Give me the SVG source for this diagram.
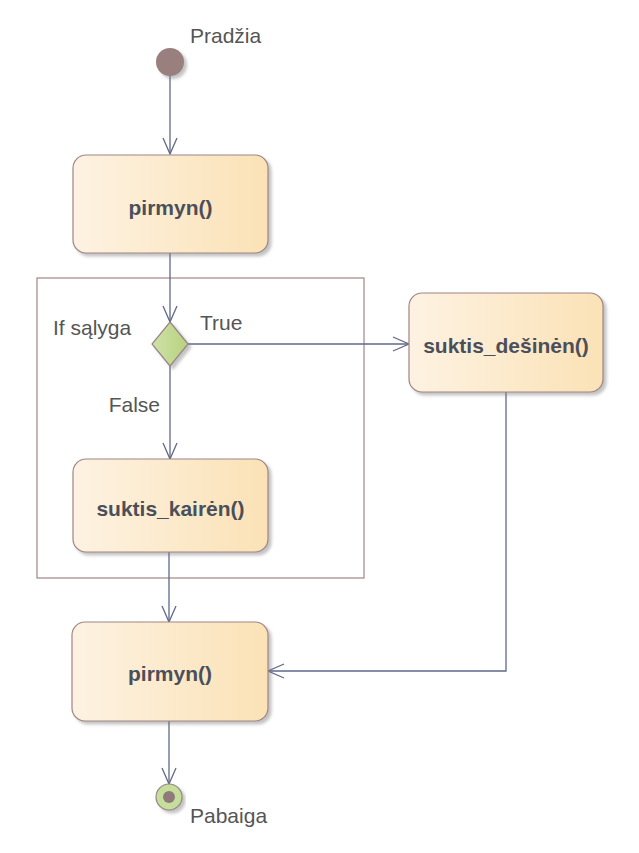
<svg xmlns="http://www.w3.org/2000/svg" width="639" height="853" viewBox="0 0 639 853">
<style>
.node rect.box{fill:url(#boxg);stroke:#a08585;stroke-width:1.2;filter:url(#sh)}
.btxt{font-family:"Liberation Sans",Arial,sans-serif;font-weight:bold;font-size:21px;fill:#4a4f5a;text-anchor:middle}
.lbl{font-family:"Liberation Sans",Arial,sans-serif;font-size:21px;fill:#555}
.conn{fill:none;stroke:#5f6889;stroke-width:1.3}
</style>
<defs>
<linearGradient id="boxg" x1="0" y1="0" x2="1" y2="0">
<stop offset="0" stop-color="#fdf2e2"/>
<stop offset="1" stop-color="#fbe2b6"/>
</linearGradient>
<linearGradient id="dg" x1="0" y1="0" x2="1" y2="0">
<stop offset="0" stop-color="#cfe2a6"/>
<stop offset="1" stop-color="#b7d27f"/>
</linearGradient>
<filter id="sh" x="-10%" y="-10%" width="125%" height="130%">
<feDropShadow dx="3" dy="3" stdDeviation="1.5" flood-color="#7a7a7a" flood-opacity="0.45"/>
</filter>
<marker id="arr" viewBox="0 0 18 16" refX="17" refY="8" markerWidth="18" markerHeight="16" markerUnits="userSpaceOnUse" orient="auto">
<path d="M1,1 L17,8 L1,15" fill="none" stroke="#5f6889" stroke-width="1.3"/>
</marker>
</defs>
<rect width="639" height="853" fill="#fff"/>

<g id="frame">
<rect x="37" y="278" width="327" height="300" fill="none" stroke="#a08585" stroke-width="1.2"/>
<text class="lbl" x="53" y="335">If sąlyga</text>
</g>

<g id="connectors">
<path class="conn" d="M170,76 V154" marker-end="url(#arr)"/>
<path class="conn" d="M170,253 V322" marker-end="url(#arr)"/>
<path class="conn" d="M188,344 H409" marker-end="url(#arr)"/>
<path class="conn" d="M170,366 V459" marker-end="url(#arr)"/>
<path class="conn" d="M169,552 V622" marker-end="url(#arr)"/>
<path class="conn" d="M506,392 V671 H268" marker-end="url(#arr)"/>
<path class="conn" d="M169,721 V784" marker-end="url(#arr)"/>
<text class="lbl" x="200" y="330">True</text>
<text class="lbl" x="160" y="412" text-anchor="end">False</text>
</g>

<g id="start">
<circle cx="170" cy="62" r="14" fill="#9a7f7f" filter="url(#sh)"/>
<text class="lbl" x="190" y="43">Pradžia</text>
</g>

<g id="pirmyn1" class="node">
<rect class="box" x="73" y="155" width="195" height="98" rx="13"/>
<text class="btxt" x="170.5" y="215">pirmyn()</text>
</g>

<g id="decision">
<polygon points="170,322 188,344 170,366 152,344" fill="url(#dg)" stroke="#9a8585" stroke-width="1.2" filter="url(#sh)"/>
</g>

<g id="desinen" class="node">
<rect class="box" x="409" y="293" width="194" height="99" rx="13"/>
<text class="btxt" x="506" y="353">suktis_dešinėn()</text>
</g>

<g id="kairen" class="node">
<rect class="box" x="73" y="459" width="195" height="93" rx="13"/>
<text class="btxt" x="170.5" y="516">suktis_kairėn()</text>
</g>

<g id="pirmyn2" class="node">
<rect class="box" x="72" y="622" width="196" height="99" rx="13"/>
<text class="btxt" x="170" y="681">pirmyn()</text>
</g>

<g id="end">
<circle cx="169" cy="797" r="13" fill="#c6de9b" stroke="#9a8585" stroke-width="1.2" filter="url(#sh)"/>
<circle cx="169" cy="797" r="6" fill="#8e7a7a"/>
<text class="lbl" x="190" y="823">Pabaiga</text>
</g>
</svg>
